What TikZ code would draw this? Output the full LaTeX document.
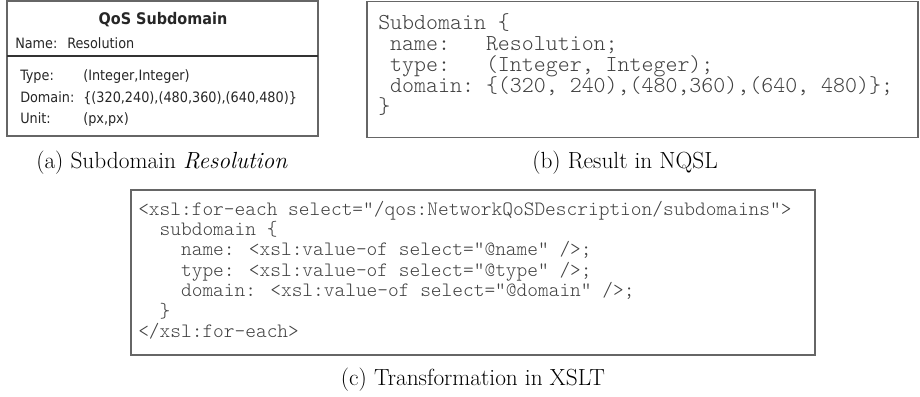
\documentclass[tikz,border=0pt]{standalone}
\usepackage{fontspec}
\newfontfamily\visfont{DejaVu Sans Condensed}
\newfontfamily\codefont{Latin Modern Mono Light}
\begin{document}
\begin{tikzpicture}[x=0.75pt,y=-0.75pt,
  frame/.style={draw=black!60, line width=1.1pt},
  vistext/.style={anchor=base west, inner sep=0pt, text=black!85, font=\visfont\fontsize{10.7pt}{12pt}\selectfont},
  vistitle/.style={anchor=base, inner sep=0pt, text=black!85, font=\visfont\bfseries\fontsize{12pt}{14pt}\selectfont},
  codeb/.style={anchor=base west, inner sep=0pt, text=black!75, font=\codefont\fontsize{17.1pt}{19pt}\selectfont},
  codec/.style={anchor=base west, inner sep=0pt, text=black!75, font=\codefont\fontsize{15.3pt}{17pt}\selectfont},
  capt/.style={anchor=base, inner sep=0pt, font=\fontsize{17.5pt}{20pt}\selectfont}]
\useasboundingbox (0,0) rectangle (920,396);
% (a)
\draw[frame] (7,0.8) rectangle (318,136);
\draw[black!80, line width=0.8pt] (7,56) -- (318,56);
\node[vistitle] (atitle) at (163,24) {QoS Subdomain};
\node[vistext] (aname) at (15,48) {Name:};
\node[vistext] (anamev) at (67,48) {Resolution};
\node[vistext] (atype) at (20,80) {Type:};
\node[vistext] (atypev) at (83,80) {(Integer,Integer)};
\node[vistext] (adom) at (20,102) {Domain:};
\node[vistext] (adomv) at (83,102) {\{(320,240),(480,360),(640,480)\}};
\node[vistext] (aunit) at (20,123) {Unit:};
\node[vistext] (aunitv) at (83,123) {(px,px)};
\node[capt] (capa) at (162,168) {(a) Subdomain \textit{Resolution}};
% (b)
\draw[frame] (367,1.5) rectangle (918,137.5);
\node[codeb] (b1) at (378,29) {Subdomain \{};
\node[codeb] (b2) at (378,50) {\ name:\ \ \ Resolution;};
\node[codeb] (b3) at (378,71) {\ type:\ \ \ (Integer,\ Integer);};
\node[codeb] (b4) at (378,92) {\ domain:\ \{(320,\ 240),(480,360),(640,\ 480)\};};
\node[codeb] (b5) at (378,113) {\}};
\node[capt] (capb) at (625,168) {(b) Result in NQSL};
% (c)
\draw[frame] (131,190) rectangle (815,355);
\node[codec] (c1) at (138,215) {<xsl:for-each select="/qos:NetworkQoSDescription/subdomains">};
\node[codec] (c2) at (138,235.4) {\ \ subdomain \{};
\node[codec] (c3) at (138,255.8) {\ \ \ \ name: <xsl:value-of select="@name" />;};
\node[codec] (c4) at (138,276.2) {\ \ \ \ type: <xsl:value-of select="@type" />;};
\node[codec] (c5) at (138,296.6) {\ \ \ \ domain: <xsl:value-of select="@domain" />;};
\node[codec] (c6) at (138,317) {\ \ \}};
\node[codec] (c7) at (138,337.4) {</xsl:for-each>};
\node[capt] (capc) at (473,385) {(c) Transformation in XSLT};
\end{tikzpicture}
\end{document}
